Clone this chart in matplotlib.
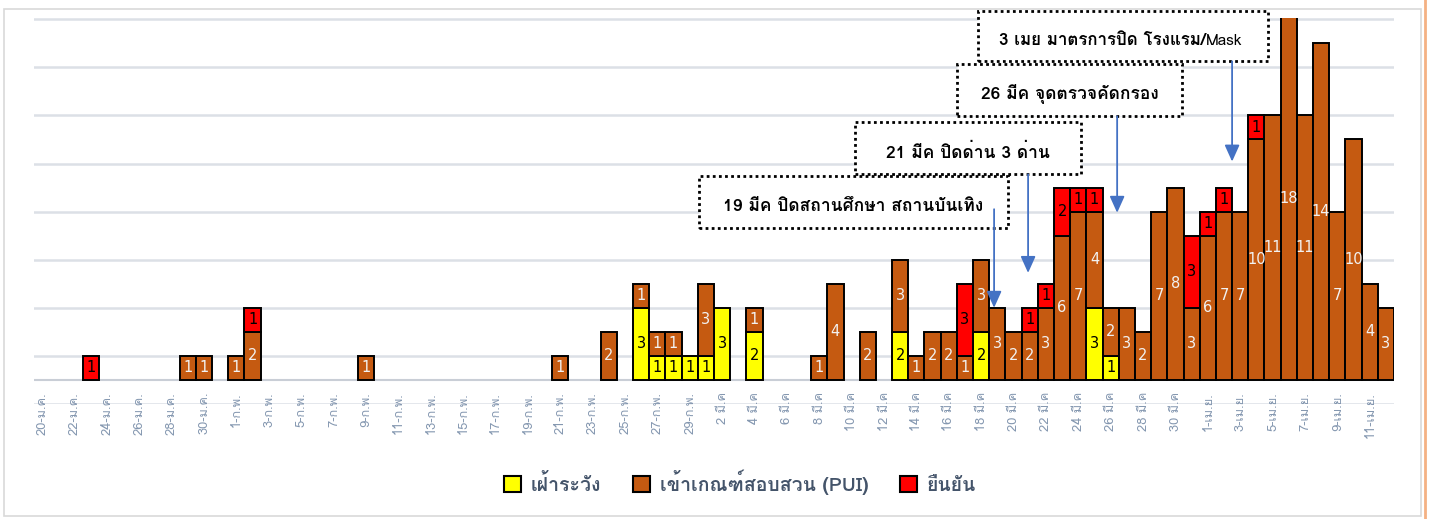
import matplotlib
matplotlib.use("Agg")
import matplotlib.pyplot as plt
from matplotlib import font_manager
from matplotlib.ft2font import FT2Font
from matplotlib.patches import Rectangle, Patch
from matplotlib.lines import Line2D


def thai_font():
    # pick an installed family that has Thai glyphs, if any
    for f in font_manager.fontManager.ttflist:
        try:
            if FT2Font(f.fname).get_char_index(0x0E01):
                return f.name
        except Exception:
            pass
    return None


TH = thai_font()
FAMILY = [TH, "DejaVu Sans"] if TH else ["DejaVu Sans"]
plt.rcParams["font.family"] = FAMILY

# daily counts 20 Jan - 12 Apr
days_jan = ["20-ม.ค.", "21-ม.ค.", "22-ม.ค.", "23-ม.ค.", "24-ม.ค.", "25-ม.ค.", "26-ม.ค.",
            "27-ม.ค.", "28-ม.ค.", "29-ม.ค.", "30-ม.ค.", "31-ม.ค."]
days_feb = ["%d-ก.พ." % d for d in range(1, 30)]
days_mar = ["%d มี.ค" % d for d in range(1, 32)]
days_apr = ["%d-เม.ย." % d for d in range(1, 13)]
days = days_jan + days_feb + days_mar + days_apr

watch_jan = [0] * 12
pui_jan = [0, 0, 0, 0, 0, 0, 0, 0, 0, 1, 1, 0]
conf_jan = [0, 0, 0, 1, 0, 0, 0, 0, 0, 0, 0, 0]

watch_feb = [0, 0, 0, 0, 0, 0, 0, 0, 0, 0, 0, 0, 0, 0, 0, 0, 0, 0, 0, 0,
             0, 0, 0, 0, 0, 3, 1, 1, 1]
pui_feb = [1, 2, 0, 0, 0, 0, 0, 0, 1, 0, 0, 0, 0, 0, 0, 0, 0, 0, 0, 0,
           1, 0, 0, 2, 0, 1, 1, 1, 0]
conf_feb = [0, 1, 0, 0, 0, 0, 0, 0, 0, 0, 0, 0, 0, 0, 0, 0, 0, 0, 0, 0,
            0, 0, 0, 0, 0, 0, 0, 0, 0]

watch_mar = [1, 3, 0, 2, 0, 0, 0, 0, 0, 0, 0, 0, 2, 0, 0, 0, 0, 2, 0, 0,
             0, 0, 0, 0, 3, 1, 0, 0, 0, 0, 0]
pui_mar = [3, 0, 0, 1, 0, 0, 0, 1, 4, 0, 2, 0, 3, 1, 2, 2, 1, 3, 3, 2,
           2, 3, 6, 7, 4, 2, 3, 2, 7, 8, 3]
conf_mar = [0, 0, 0, 0, 0, 0, 0, 0, 0, 0, 0, 0, 0, 0, 0, 0, 3, 0, 0, 0,
            1, 1, 2, 1, 1, 0, 0, 0, 0, 0, 3]

watch_apr = [0] * 12
pui_apr = [6, 7, 7, 10, 11, 18, 11, 14, 7, 10, 4, 3]
conf_apr = [1, 1, 0, 1, 0, 0, 0, 0, 0, 0, 0, 0]

watch = watch_jan + watch_feb + watch_mar + watch_apr
pui = pui_jan + pui_feb + pui_mar + pui_apr
conf = conf_jan + conf_feb + conf_mar + conf_apr

# events: (text, day, arrow top, arrow tip, box x0, box x1, box y0, box y1)
events = [
    ("19 มีค ปิดสถานศึกษา สถานบันเทิง", 58.8, 7.1, 3.0, 40.58, 59.66, 6.33, 8.46),
    ("21 มีค ปิดด่าน 3 ด่าน", 60.9, 8.55, 4.45, 50.21, 64.17, 8.58, 10.71),
    ("26 มีค จุดตรวจคัดกรอง", 66.4, 10.96, 6.95, 56.51, 70.41, 10.96, 13.125),
    ("3 เมย มาตรการปิด โรงแรม/", 73.5, 13.25, 9.08, 57.81, 75.72, 13.25, 15.33),
]

YELLOW, BROWN, RED = "#FFFF00", "#C55A11", "#FF0000"
BLUE = "#4472C4"

fig = plt.figure(figsize=(14.35, 5.19), dpi=100)
ax = fig.add_axes([34 / 1435, 115 / 519, 1360 / 1435, 386 / 519])

x = list(range(len(days)))
bottom2 = [a + b for a, b in zip(watch, pui)]
series = [
    (watch, [0] * len(days), YELLOW, "black"),
    (pui, watch, BROWN, "#F2F2F2"),
    (conf, bottom2, RED, "black"),
]
for vals, base, col, tcol in series:
    xs = [i for i in x if vals[i] > 0]
    hs = [vals[i] for i in xs]
    bs = [base[i] for i in xs]
    bars = ax.bar(xs, hs, bottom=bs, width=1.0, color=col, edgecolor="black",
                  linewidth=1.4, zorder=3)
    ax.bar_label(bars, labels=[str(v) for v in hs], label_type="center",
                 color=tcol, fontsize=10.5, family="DejaVu Sans", zorder=4)

ax.set_xlim(-0.5, len(days) - 0.5)
ax.set_ylim(-1, 15.05)
ax.set_yticks(range(-1, 16, 2))
ax.grid(axis="y", color="#DCE0E6", linewidth=1.8, zorder=0)
ax.axhline(0, color="#C9CED6", linewidth=1.5, zorder=1)
ax.tick_params(left=False, bottom=False, labelleft=False, labelbottom=False)
ax.set_xticks([])
for s in ax.spines.values():
    s.set_visible(False)

for i in range(0, len(days), 2):
    ax.text(i, -0.5, days[i], rotation=90, ha="center", va="top",
            fontsize=9.3, color="#8497B0", clip_on=False)

for text, day, y0, y1, bx0, bx1, by0, by1 in events:
    ax.add_patch(Rectangle((bx0, by0), bx1 - bx0, by1 - by0, facecolor="white",
                           edgecolor="black", linestyle=(0, (1, 1.2)), linewidth=2,
                           zorder=5, clip_on=False))
    ax.annotate("", xy=(day, y1), xytext=(day, y0),
                arrowprops=dict(arrowstyle="-|>,head_width=0.45,head_length=1.0",
                                color=BLUE, lw=1.3, shrinkA=0, shrinkB=0),
                zorder=6, annotation_clip=False)
    cy = by0 + (by1 - by0) * 0.42
    if text.endswith("/"):
        bx = 71.9
        ax.text(bx, cy, text, ha="right", va="center", fontsize=12.2,
                fontweight="bold", zorder=7, clip_on=False)
        ax.text(bx, cy - 0.05, "Mask", ha="left", va="center", fontsize=11,
                zorder=7, clip_on=False)
    else:
        ax.text((bx0 + bx1) / 2, cy, text, ha="center", va="center",
                fontsize=12.5, fontweight="bold", zorder=7, clip_on=False)

handles = [Patch(facecolor=YELLOW, edgecolor="black", linewidth=1.5),
           Patch(facecolor=BROWN, edgecolor="black", linewidth=1.5),
           Patch(facecolor=RED, edgecolor="black", linewidth=1.5)]
fig.legend(handles, ["เฝ้าระวัง", "เข้าเกณฑ์สอบสวน (PUI)", "ยืนยัน"], ncol=3,
           loc="center", bbox_to_anchor=(740 / 1435, 1 - 482 / 519), frameon=False,
           prop={"size": 14, "weight": "bold"}, labelcolor="#44546A",
           handlelength=0.9, handleheight=0.9, handletextpad=0.5, columnspacing=1.6)

fig.add_artist(Rectangle((4 / 1435, 3 / 519), 1417 / 1435, 507 / 519,
                         transform=fig.transFigure, fill=False,
                         edgecolor="#D9D9D9", linewidth=1.2))
fig.add_artist(Line2D([1425 / 1435] * 2, [0, 1], transform=fig.transFigure,
                      color="#F4B183", linewidth=2))

fig.savefig("out.png", dpi=100)
